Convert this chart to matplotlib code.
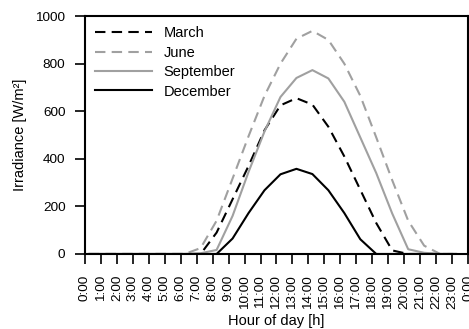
import numpy as np
import matplotlib
matplotlib.use("Agg")
import matplotlib.pyplot as plt

plt.rcParams['font.family'] = ['Liberation Sans', 'DejaVu Sans']

# hourly irradiance [W/m2], index = hour of day, sampled a quarter past the hour
hours = np.arange(24) + 0.25
march = [0, 0, 0, 0, 0, 0, 0, 0, 90, 230, 370, 520, 625, 655,
         628, 535, 410, 270, 130, 15, 0, 0, 0, 0]
june = [0, 0, 0, 0, 0, 0, 0, 25, 140, 317, 495, 665, 800, 905,
        938, 900, 800, 665, 490, 310, 140, 35, 0, 0]
september = [0, 0, 0, 0, 0, 0, 0, 3, 17, 160, 345, 515, 660, 740,
             773, 738, 640, 490, 340, 170, 20, 5, 0, 0]
december = [0, 0, 0, 0, 0, 0, 0, 0, 0, 65, 172, 268, 335, 358,
            336, 268, 172, 62, 0, 0, 0, 0, 0, 0]

tick_pos = np.arange(25)
tick_labels = [f"{h % 24}:00" for h in range(25)]

fig = plt.figure(figsize=(4.69, 3.29), dpi=100)
ax = fig.add_axes([0.181, 0.228, 0.817, 0.723])

gray = '#a0a0a0'
ax.plot(hours, march, color='black', lw=1.5, dashes=(5, 3), label='March', zorder=1)
ax.plot(hours, june, color=gray, lw=1.5, dashes=(5, 3), label='June', zorder=1)
ax.plot(hours, september, color=gray, lw=1.5, label='September', zorder=1)
ax.plot(hours, december, color='black', lw=1.5, label='December', zorder=1)

ax.set_xlim(0, 24)
ax.set_ylim(0, 1000)
ax.set_xticks(tick_pos)
ax.set_xticklabels(tick_labels, rotation=90, fontsize=9.7)
ax.set_yticks(np.arange(0, 1001, 200))
ax.tick_params(axis='y', labelsize=9.7, length=7, width=1.2, pad=7, direction='out')
ax.tick_params(axis='x', length=7.5, width=1.2, pad=7.5, direction='out')
for s in ax.spines.values():
    s.set_linewidth(1.5)

ax.set_xlabel('Hour of day [h]', fontsize=10.5, labelpad=4)
ax.set_ylabel('Irradiance [W/m²]', fontsize=10.5, labelpad=6)

ax.legend(loc='upper left', frameon=False, fontsize=10.5, handlelength=3.9,
          handletextpad=0.8, labelspacing=0.37, borderaxespad=0.3,
          bbox_to_anchor=(0.0, 1.0))

fig.savefig('out.png', dpi=100)
